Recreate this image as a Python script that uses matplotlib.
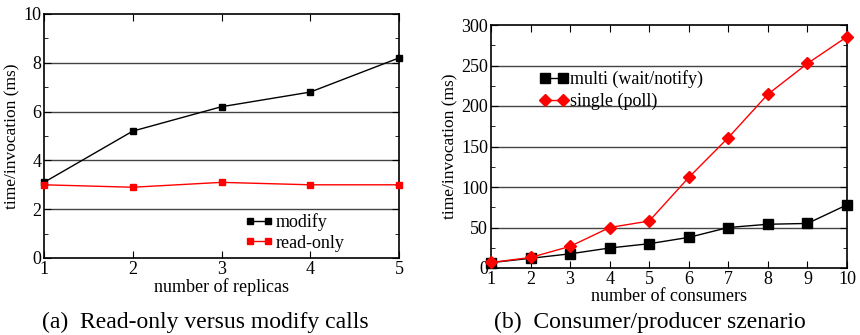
import matplotlib
matplotlib.use('Agg')
import matplotlib.pyplot as plt
from matplotlib.ticker import MultipleLocator

plt.rcParams['font.family'] = ['Liberation Serif', 'DejaVu Serif']

# left panel data
replicas = [1, 2, 3, 4, 5]
modify = [3.1, 5.2, 6.2, 6.8, 8.2]
read_only = [3.0, 2.9, 3.1, 3.0, 3.0]

# right panel data
consumers = [1, 2, 3, 4, 5, 6, 7, 8, 9, 10]
multi = [6.6, 12, 17.5, 24.7, 30, 37.8, 50, 54, 55, 78]
single = [6.8, 13, 26.7, 50, 58, 111.8, 161, 214.5, 252.5, 285.5]

fig = plt.figure(figsize=(8.6, 3.35), dpi=100)
ax1 = fig.add_axes([44/860, 1-258/335, 355/860, 244/335])
ax2 = fig.add_axes([491/860, 1-268/335, 356/860, 243/335])

grid_col = '#444444'

# (a)
for y in [2, 4, 6, 8]:
    ax1.axhline(y, color=grid_col, lw=1.0, zorder=0)
ax1.plot(replicas, modify, color='black', lw=1.0, marker='s', ms=5, label='modify', clip_on=False, zorder=3)
ax1.plot(replicas, read_only, color='red', lw=1.0, marker='s', ms=5, label='read-only', clip_on=False, zorder=3)
ax1.set_xlim(1, 5)
ax1.set_ylim(0, 10)
ax1.xaxis.set_major_locator(MultipleLocator(1))
ax1.yaxis.set_major_locator(MultipleLocator(2))
ax1.yaxis.set_minor_locator(MultipleLocator(1))
ax1.set_xlabel('number of replicas', fontsize=13, labelpad=0)
ax1.set_ylabel('time/invocation (ms)', fontsize=12.5, labelpad=2)
ax1.legend(loc='upper left', bbox_to_anchor=(0.53, 0.235), frameon=False, fontsize=13,
           handlelength=1.6, handletextpad=0.1, borderpad=0.2, labelspacing=0.2,
           numpoints=2)

# (b)
for y in [50, 100, 150, 200, 250]:
    ax2.axhline(y, color=grid_col, lw=1.0, zorder=0)
ax2.plot(consumers, multi, color='black', lw=1.0, marker='s', ms=7, label='multi (wait/notify)', clip_on=False, zorder=3)
ax2.plot(consumers, single, color='red', lw=1.0, marker='D', ms=6, label='single (poll)', clip_on=False, zorder=3)
ax2.set_xlim(1, 10)
ax2.set_ylim(0, 300)
ax2.xaxis.set_major_locator(MultipleLocator(1))
ax2.yaxis.set_major_locator(MultipleLocator(50))
ax2.yaxis.set_minor_locator(MultipleLocator(25))
ax2.set_xlabel('number of consumers', fontsize=13, labelpad=0)
ax2.set_ylabel('time/invocation (ms)', fontsize=12.5, labelpad=2)
ax2.legend(loc='upper left', bbox_to_anchor=(0.1, 0.865), frameon=False, fontsize=13,
           handlelength=1.6, handletextpad=0.1, borderpad=0.2, labelspacing=0.25, numpoints=2)

for ax in (ax1, ax2):
    ax.tick_params(which='both', direction='in', top=True, right=True, labelsize=13, pad=2)
    ax.tick_params(which='major', length=5)
    ax.tick_params(which='minor', length=3)
    for s in ax.spines.values():
        s.set_linewidth(1.2)

fig.text(205/860, 1-322/335, '(a)  Read-only versus modify calls', ha='center', va='center', fontsize=17)
fig.text(650/860, 1-322/335, '(b)  Consumer/producer szenario', ha='center', va='center', fontsize=17)

fig.savefig('out.png', dpi=100)
